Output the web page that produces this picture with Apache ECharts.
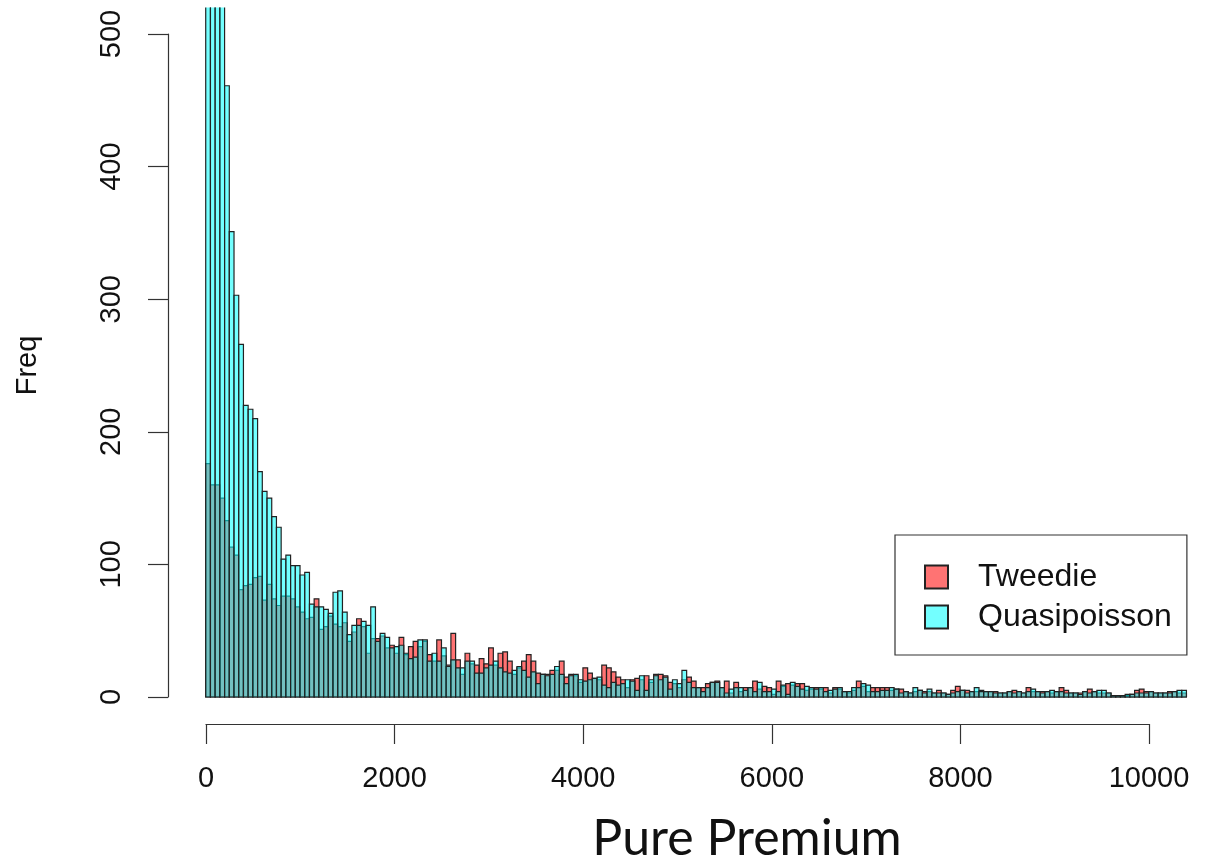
<!DOCTYPE html>
<html>
<head>
<meta charset="utf-8">
<script src="https://cdn.jsdelivr.net/npm/echarts@6/dist/echarts.min.js"></script>
<style>html,body{margin:0;padding:0;background:#fff;}#c{width:1217px;height:864px;}</style>
</head>
<body>
<div id="c"></div>
<script>
// Histogram bins: width 50, starting at 0
const binWidth = 50;
const seriesNames = ['Tweedie', 'Quasipoisson'];
const xTicks = [0, 2000, 4000, 6000, 8000, 10000];
const yTicks = [0, 100, 200, 300, 400, 500];

const tweedie = [
 176,160,160,150,133,113,107,81,84,85,
 90,91,73,85,74,69,76,76,74,68,
 64,59,60,74,51,53,61,55,53,56,
 42,49,59,53,33,44,44,46,37,39,
 33,45,32,38,42,38,42,32,27,43,
 31,24,48,28,17,33,25,24,29,25,
 37,24,33,34,27,17,22,27,32,27,
 18,17,17,20,20,27,15,17,16,11,
 22,18,14,13,24,22,19,15,13,7,
 13,14,13,16,11,17,17,16,11,10,
 7,13,15,12,7,7,10,11,12,7,
 12,3,11,4,7,7,12,6,8,7,
 2,12,8,10,9,10,10,5,6,7,
 6,7,3,7,6,4,3,5,12,8,
 4,7,7,7,7,5,6,6,4,3,
 4,5,4,4,3,5,3,2,5,8,
 5,5,4,4,5,4,4,4,3,3,
 4,5,4,3,7,4,4,4,4,3,
 4,7,5,3,3,3,4,6,4,3,
 3,3,1,1,1,1,2,5,6,4,
 4,3,3,3,4,4,3,3
];
const quasipoisson = [
 1200,900,700,560,461,351,303,266,220,217,
 210,170,155,150,136,128,104,107,99,99,
 92,94,70,68,68,66,63,79,80,64,
 47,54,54,57,54,68,42,48,45,37,
 38,39,33,29,30,43,43,27,33,27,
 37,23,28,22,22,27,27,18,18,22,
 24,27,22,19,18,20,23,20,15,19,
 10,17,16,17,23,17,10,16,17,13,
 12,13,14,15,9,7,11,9,10,13,
 12,5,16,5,13,16,13,15,6,13,
 10,20,11,7,7,4,7,11,11,7,
 3,6,7,7,5,7,4,11,4,4,
 6,4,9,2,11,8,6,8,7,6,
 7,4,5,6,7,4,4,7,7,10,
 9,4,4,5,5,7,6,3,4,3,
 7,5,3,6,3,3,3,2,3,4,
 5,3,4,7,4,4,4,3,3,3,
 4,3,4,3,4,6,4,3,4,5,
 4,4,3,3,3,2,4,3,4,5,
 5,3,1,1,1,2,2,3,3,3,
 4,3,3,3,3,4,5,5
];

const fills = ['rgba(255,0,0,0.55)', 'rgba(0,255,255,0.55)'];
const edge = '#222222';

function toBins(counts) {
  return counts.map((c, i) => [i * binWidth, (i + 1) * binWidth, c]);
}

function histItem(fill) {
  return function (params, api) {
    const x0 = api.value(0), x1 = api.value(1), v = api.value(2);
    const p0 = api.coord([x0, v]);
    const p1 = api.coord([x1, 0]);
    return {
      type: 'rect',
      shape: { x: p0[0], y: p0[1], width: p1[0] - p0[0], height: p1[1] - p0[1] },
      style: { fill: fill, stroke: edge, lineWidth: 1.2 }
    };
  };
}

const chart = echarts.init(document.getElementById('c'), null, { renderer: 'canvas' });
const font = 'Liberation Sans, Arial, sans-serif';

chart.setOption({
  animation: false,
  backgroundColor: '#ffffff',
  grid: [
    { left: 168, width: 1049, top: 7.5, height: 716 },
    { left: 168, width: 10, top: 34, height: 663 },
    { left: 206, width: 943, top: 700, height: 24 }
  ],
  xAxis: [
    { gridIndex: 0, type: 'value', min: -400, max: 10724, show: false },
    { gridIndex: 1, type: 'value', show: false },
    {
      gridIndex: 2, type: 'value', min: xTicks[0], max: xTicks[xTicks.length - 1], interval: 2000,
      position: 'bottom',
      axisLine: { show: true, lineStyle: { color: '#333', width: 1.2 } },
      axisTick: { show: true, length: 20, lineStyle: { color: '#333', width: 1.2 } },
      splitLine: { show: false },
      axisLabel: { show: true, fontSize: 29, color: '#111', fontFamily: font, margin: 40,
        formatter: v => xTicks.indexOf(v) >= 0 ? String(v) : '' }
    }
  ],
  yAxis: [
    { gridIndex: 0, type: 'value', min: -20, max: 520, show: false },
    {
      gridIndex: 1, type: 'value', min: yTicks[0], max: yTicks[yTicks.length - 1], interval: 100,
      position: 'left',
      name: 'Freq', nameLocation: 'middle', nameRotate: 90, nameGap: 126,
      nameTextStyle: { fontSize: 29, color: '#111', fontFamily: font },
      axisLine: { show: true, lineStyle: { color: '#333', width: 1.2 } },
      axisTick: { show: true, length: 20, lineStyle: { color: '#333', width: 1.2 } },
      splitLine: { show: false },
      axisLabel: { show: true, rotate: 90, fontSize: 29, color: '#111', fontFamily: font, margin: 56,
        verticalAlign: 'middle', align: 'center' }
    },
    { gridIndex: 2, type: 'value', show: false }
  ],
  legend: {
    orient: 'vertical', left: 895, top: 535,
    data: seriesNames,
    icon: 'rect', itemWidth: 23, itemHeight: 23, itemGap: 8,
    padding: [26, 15, 22, 29],
    borderColor: '#333', borderWidth: 1.2, borderRadius: 0,
    textStyle: { fontSize: 32, color: '#111', fontFamily: font, padding: [0, 0, 0, 25] }
  },
  graphic: [
    { type: 'text', x: 747, y: 814,
      style: { text: 'Pure Premium', font: '50px Lato, "Open Sans", sans-serif', fill: '#111', textAlign: 'center' } }
  ],
  series: [
    { name: seriesNames[0], type: 'custom', xAxisIndex: 0, yAxisIndex: 0, clip: true,
      itemStyle: { color: fills[0], borderColor: edge, borderWidth: 1.2 },
      renderItem: histItem(fills[0]), data: toBins(tweedie), encode: { x: [0, 1], y: 2 } },
    { name: seriesNames[1], type: 'custom', xAxisIndex: 0, yAxisIndex: 0, clip: true,
      itemStyle: { color: fills[1], borderColor: edge, borderWidth: 1.2 },
      renderItem: histItem(fills[1]), data: toBins(quasipoisson), encode: { x: [0, 1], y: 2 } }
  ]
});
</script>
</body>
</html>
